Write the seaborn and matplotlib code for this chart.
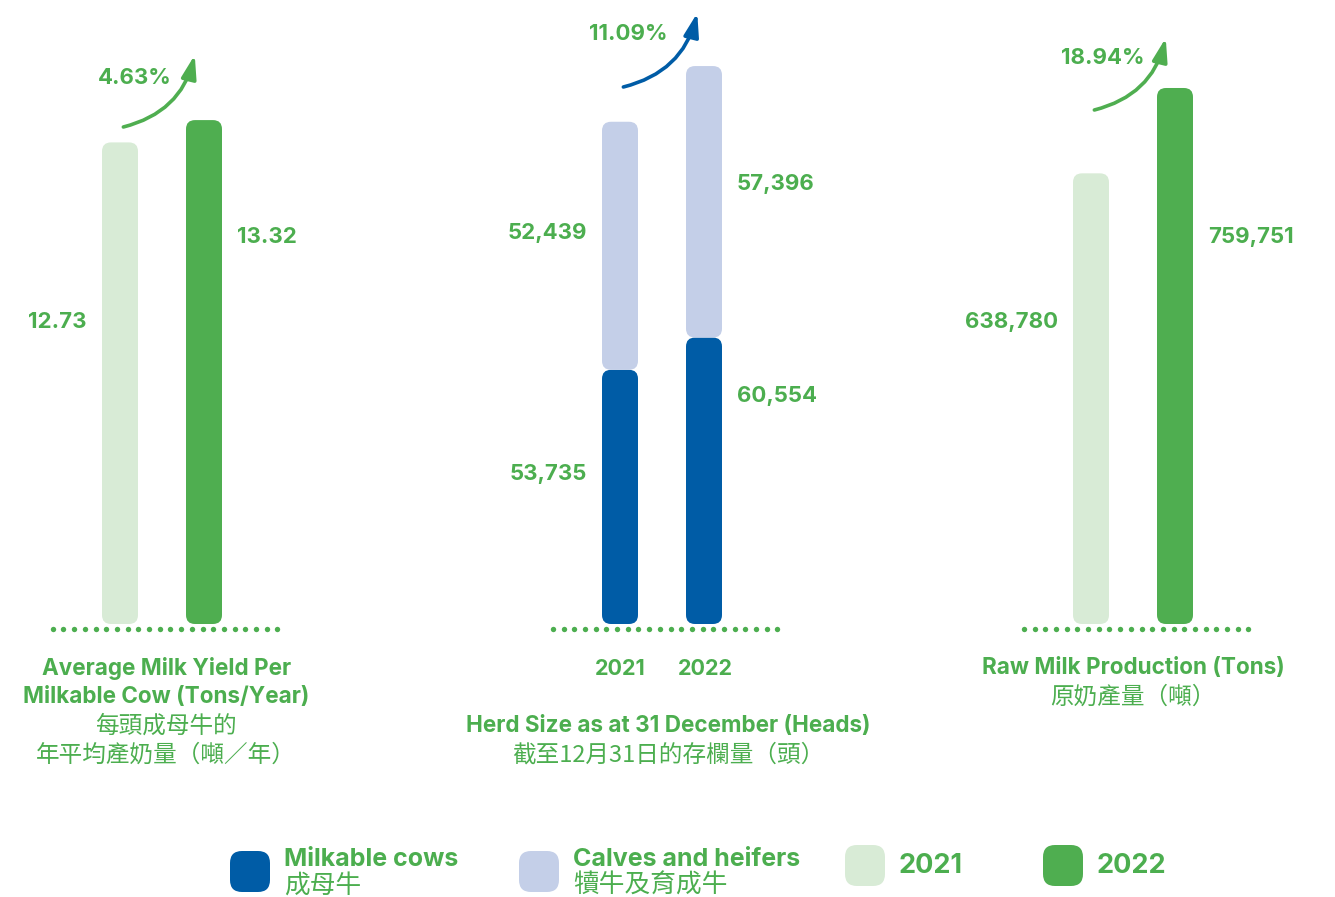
import matplotlib
matplotlib.use("Agg")
import matplotlib.pyplot as plt
import matplotlib.transforms as mtrans
from matplotlib.patches import FancyBboxPatch
import seaborn as sns
import pandas as pd
import numpy as np

# ---------------- data ----------------
years = ["2021", "2022"]
milk_yield = [12.73, 13.32]                 # tons / year
milkable_cows = [53735, 60554]              # heads
calves_heifers = [52439, 57396]             # heads
raw_milk = [638780, 759751]                 # tons
growth_labels = ["4.63%", "11.09%", "18.94%"]

title_lines = [
    ["Average Milk Yield Per", "Milkable Cow (Tons/Year)", "每頭成母牛的", "年平均產奶量（噸／年）"],
    ["Herd Size as at 31 December (Heads)", "截至12月31日的存欄量（頭）"],
    ["Raw Milk Production (Tons)", "原奶產量（噸）"],
]
legend_en = ["Milkable cows", "Calves and heifers", "2021", "2022"]
legend_zh = ["成母牛", "犢牛及育成牛", "", ""]

# ---------------- style ----------------
C_2021 = "#d8ebd6"
C_2022 = "#4fae50"
C_BLUE = "#005ca6"
C_LBLUE = "#c4cfe8"
C_TEXT = "#4cae4f"

sns.set_theme(style="white")
LATIN = ["Inter", "Noto Sans CJK TC", "DejaVu Sans"]
CJK = ["Noto Sans CJK TC", "DejaVu Sans"]
plt.rcParams["font.family"] = LATIN

W, H = 1335, 897
fig = plt.figure(figsize=(W / 100, H / 100), dpi=100)
fig.patch.set_facecolor("white")

# layout (pixels)
bar_c0 = [120, 620, 1091]       # pixel x of 2021 bar centre per panel
unit_px = 84                    # pixel distance between the two bars
ax_top_px, ax_bot_px, zero_px = 10, 640, 624
ytop_vals = [16.23, 129800, 870300]   # value at the top edge of each panel's axis

def px_rect(left_px, top_px, w_px, h_px):
    return [left_px / W, (H - top_px - h_px) / H, w_px / W, h_px / H]

axes = []
for i in range(3):
    left = bar_c0[i] - 1.2 * unit_px
    ax = fig.add_axes(px_rect(left, ax_top_px, 3.4 * unit_px, ax_bot_px - ax_top_px))
    axes.append(ax)

def setup(ax, ytop):
    s = (zero_px - ax_top_px) / ytop
    ax.set_xlim(-1.2, 2.2)
    ax.set_ylim(-(ax_bot_px - zero_px) / s, ytop)
    for sp in ax.spines.values():
        sp.set_visible(False)
    ax.set_yticks([])
    ax.set_xlabel("")
    ax.set_ylabel("")
    ax.set_facecolor("none")
    return s

def round_bars(ax, segs, colors):
    """Replace seaborn's rectangles with rounded boxes; segs = list of (bottom, top)."""
    sx = ax.transData.transform((1, 0))[0] - ax.transData.transform((0, 0))[0]
    sy = ax.transData.transform((0, 1))[1] - ax.transData.transform((0, 0))[1]
    patches = list(ax.patches)
    for p, (b, t), c in zip(patches, segs, colors):
        x, w = p.get_x(), p.get_width()
        p.remove()
        box = FancyBboxPatch((x, b), w, t - b,
                             boxstyle=f"round,pad=0,rounding_size={9 / sx}",
                             mutation_aspect=sx / sy, fc=c, ec="none", zorder=2)
        ax.add_patch(box)

def baseline(ax, s):
    y = -5 / s
    xs = list(np.arange(-0.8, 1.84, 10.7 / unit_px)) + [1.87]
    ax.scatter(xs, [y] * len(xs), s=15, color=C_TEXT, linewidths=0,
               clip_on=False, zorder=1)

bar_w = 36 / unit_px

# ---- panel 1 ----
ax = axes[0]
df1 = pd.DataFrame({"year": years, "value": milk_yield})
sns.barplot(data=df1, x="year", y="value", hue="year", palette=[C_2021, C_2022],
            width=bar_w, legend=False, ax=ax)
s1 = setup(ax, ytop_vals[0])
round_bars(ax, [(0, v) for v in milk_yield], [C_2021, C_2022])
baseline(ax, s1)
ax.set_xticks([])

# ---- panel 2 ----
ax = axes[1]
totals = [m + c for m, c in zip(milkable_cows, calves_heifers)]
df2a = pd.DataFrame({"year": years, "value": milkable_cows})
df2b = pd.DataFrame({"year": years, "value": totals})
sns.barplot(data=df2a, x="year", y="value", color=C_BLUE, width=bar_w, ax=ax)
sns.barplot(data=df2b, x="year", y="value", color=C_LBLUE, width=bar_w, ax=ax)
s2 = setup(ax, ytop_vals[1])
round_bars(ax, [(0, m) for m in milkable_cows] + [(m, t) for m, t in zip(milkable_cows, totals)],
           [C_BLUE, C_BLUE, C_LBLUE, C_LBLUE])
baseline(ax, s2)
ax.set_xticks([0, 1.02])
ax.set_xticklabels(years, fontsize=15.5, fontweight="bold", color=C_TEXT)
ax.tick_params(axis="x", length=0, pad=14)

# ---- panel 3 ----
ax = axes[2]
df3 = pd.DataFrame({"year": years, "value": raw_milk})
sns.barplot(data=df3, x="year", y="value", hue="year", palette=[C_2021, C_2022],
            width=bar_w, legend=False, ax=ax)
s3 = setup(ax, ytop_vals[2])
round_bars(ax, [(0, v) for v in raw_milk], [C_2021, C_2022])
baseline(ax, s3)
ax.set_xticks([])

# ---------------- value labels ----------------
def yfrac(px):
    return (ax_bot_px - px) / (ax_bot_px - ax_top_px)

gap = 15 / unit_px
half = bar_w / 2
lab_kw = dict(fontsize=16, fontweight="bold", color=C_TEXT, va="center")

def side_label(ax, idx, text, ypx):
    tr = mtrans.blended_transform_factory(ax.transData, ax.transAxes)
    if idx == 0:
        ax.text(0 - half - gap, yfrac(ypx), text, ha="right", transform=tr, **lab_kw)
    else:
        ax.text(1 + half + gap, yfrac(ypx), text, ha="left", transform=tr, **lab_kw)

side_label(axes[0], 0, f"{milk_yield[0]:.2f}", 322)
side_label(axes[0], 1, f"{milk_yield[1]:.2f}", 237)
side_label(axes[1], 0, f"{calves_heifers[0]:,}", 233)
side_label(axes[1], 0, f"{milkable_cows[0]:,}", 474)
side_label(axes[1], 1, f"{calves_heifers[1]:,}", 184)
side_label(axes[1], 1, f"{milkable_cows[1]:,}", 396)
side_label(axes[2], 0, f"{raw_milk[0]:,}", 322)
side_label(axes[2], 1, f"{raw_milk[1]:,}", 237)

# ---------------- growth arrows ----------------
arrow_geo = [  # (start x, start ypx, end x, end ypx, text x, text ypx)
    (0.04, 127, 0.89, 55, 0.18, 78),
    (0.04, 87, 0.92, 13, 0.10, 34),
    (0.04, 110, 0.89, 38, 0.14, 58),
]
arrow_colors = [C_2022, C_BLUE, C_2022]
for ax, g, col, lab in zip(axes, arrow_geo, arrow_colors, growth_labels):
    tr = mtrans.blended_transform_factory(ax.transData, ax.transAxes)
    ax.annotate("", xy=(g[2], yfrac(g[3])), xytext=(g[0], yfrac(g[1])),
                xycoords=tr, textcoords=tr,
                arrowprops=dict(arrowstyle="-|>,head_length=1.0,head_width=0.32",
                                connectionstyle="arc3,rad=0.3", lw=2.6, color=col,
                                shrinkA=0, shrinkB=0, mutation_scale=14),
                annotation_clip=False)
    ax.text(g[4], yfrac(g[5]), lab, transform=tr, ha="center", va="center",
            fontsize=16, fontweight="bold", color=C_TEXT)

# ---------------- panel titles ----------------
title_x = [0.55, 0.57, 0.50]
title_start_px = [668, 726, 668]
for ax, lines, tx, y0 in zip(axes, title_lines, title_x, title_start_px):
    tr = mtrans.blended_transform_factory(ax.transData, ax.transAxes)
    for k, line in enumerate(lines):
        is_cjk = any(ord(ch) > 0x2E80 for ch in line)
        ax.text(tx, yfrac(y0 + 29 * k), line, transform=tr, ha="center", va="center",
                fontsize=17 if is_cjk else 16.2,
                fontweight="normal" if is_cjk else "bold",
                family=CJK if is_cjk else LATIN, color=C_TEXT, clip_on=False)

# ---------------- legend ----------------
lax = fig.add_axes([0, 0, 1, 1], zorder=-1)
lax.set_xlim(0, W)
lax.set_ylim(H, 0)
lax.axis("off")
leg_colors = [C_BLUE, C_LBLUE, C_2021, C_2022]
leg_x = [230, 519, 845, 1043]
leg_y = [851, 851, 845, 845]
for c, x0, y0, en, zh in zip(leg_colors, leg_x, leg_y, legend_en, legend_zh):
    lax.add_patch(FancyBboxPatch((x0, y0), 40, 41,
                                 boxstyle="round,pad=0,rounding_size=12",
                                 fc=c, ec="none"))
    if zh:
        lax.text(x0 + 54, 859, en, ha="left", va="center", fontsize=18,
                 fontweight="bold", color=C_TEXT, family=LATIN)
        lax.text(x0 + 54, 886, zh, ha="left", va="center", fontsize=18.5,
                 color=C_TEXT, family=CJK)
    else:
        lax.text(x0 + 54, 866, en, ha="left", va="center", fontsize=19.5,
                 fontweight="bold", color=C_TEXT, family=LATIN)

fig.savefig("out.png", dpi=100, facecolor="white")
